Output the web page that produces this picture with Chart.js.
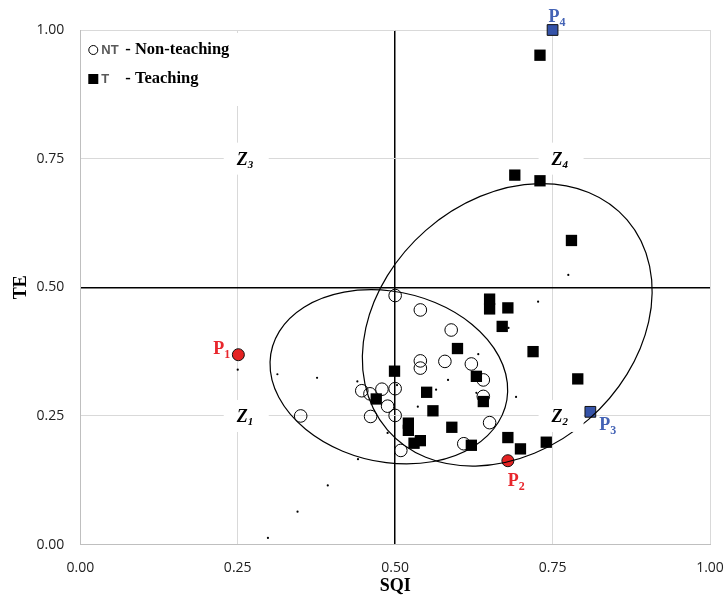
<!DOCTYPE html>
<html lang="en">
<head>
  <meta charset="UTF-8">
  <title>TE vs SQI</title>
  <style>
    *{
      margin: 0;
      padding: 0;
    }
    body{
      background: #fff;
    }
    .chartBox{
      width: 726px;
      height: 596px;
    }
  </style>
</head>
<body>
  <div class="chartBox">
    <canvas id="myChart"></canvas>
  </div>
  <script src="https://cdn.jsdelivr.net/npm/chart.js"></script>
  <script>
    // non-teaching (open circles)
    const ntX = [0.350, 0.447, 0.460, 0.461, 0.479, 0.488, 0.500, 0.500, 0.500, 0.509,
                 0.540, 0.540, 0.540, 0.579, 0.589, 0.621, 0.640, 0.640, 0.650, 0.609];
    const ntY = [0.250, 0.299, 0.293, 0.249, 0.302, 0.269, 0.484, 0.303, 0.251, 0.183,
                 0.456, 0.357, 0.343, 0.356, 0.417, 0.351, 0.320, 0.288, 0.237, 0.196];

    // teaching (black squares)
    const tX = [0.730, 0.690, 0.730, 0.780, 0.650, 0.650, 0.679, 0.670, 0.599, 0.719,
                0.629, 0.640, 0.790, 0.590, 0.679, 0.699, 0.740, 0.621, 0.499, 0.470,
                0.550, 0.560, 0.521, 0.521, 0.530, 0.540];
    const tY = [0.951, 0.718, 0.707, 0.591, 0.477, 0.458, 0.460, 0.424, 0.381, 0.375,
                0.327, 0.278, 0.322, 0.228, 0.208, 0.186, 0.199, 0.193, 0.337, 0.283,
                0.296, 0.260, 0.236, 0.222, 0.197, 0.202];

    // small dots (ellipse axes)
    const dotX = [0.250, 0.313, 0.376, 0.440, 0.503, 0.565, 0.629, 0.692, 0.755,
                  0.298, 0.345, 0.393, 0.441, 0.488, 0.536, 0.584, 0.632, 0.680, 0.727, 0.775];
    const dotY = [0.340, 0.331, 0.324, 0.317, 0.310, 0.301, 0.295, 0.287, 0.279,
                  0.013, 0.064, 0.115, 0.166, 0.217, 0.268, 0.320, 0.370, 0.421, 0.472, 0.524];

    // marked points P1..P4
    const pNames = ['1', '2', '3', '4'];
    const pX = [0.251, 0.679, 0.810, 0.750];
    const pY = [0.369, 0.163, 0.258, 1.000];

    // zones Z1..Z4
    const zNames = ['1', '2', '3', '4'];
    const zX = [0.25, 0.75, 0.25, 0.75];
    const zY = [0.25, 0.25, 0.75, 0.75];

    // confidence ellipses (data units, angle in degrees)
    const ellCx = [0.490, 0.678];
    const ellCy = [0.326, 0.427];
    const ellRx = [0.195, 0.288];
    const ellRy = [0.162, 0.213];
    const ellAngle = [-26.9, 63.3];

    const tickValues = [0, 0.25, 0.5, 0.75, 1];

    const toPts = (xs, ys) => xs.map((v, i) => ({x: v, y: ys[i]}));

    const RED = '#e8262c';
    const BLUE = '#4463b5';
    const SERIF = '"Liberation Serif", "Times New Roman", serif';

    // label offsets for P points (pixels)
    const pOffset = [[-25, -1], [0, 25], [9, 18], [-4, -8]];

    const overlay = {
      id: 'overlay',
      afterDatasetsDraw(chart) {
        const {ctx, scales: {x, y}} = chart;
        const sx = x.getPixelForValue(1) - x.getPixelForValue(0);
        const sy = y.getPixelForValue(0) - y.getPixelForValue(1);

        // ellipses
        ctx.save();
        for (let i = 0; i < ellCx.length; i++) {
          ctx.save();
          ctx.translate(x.getPixelForValue(ellCx[i]), y.getPixelForValue(ellCy[i]));
          ctx.scale(sx, -sy);
          ctx.rotate(ellAngle[i] * Math.PI / 180);
          ctx.beginPath();
          ctx.ellipse(0, 0, ellRx[i], ellRy[i], 0, 0, 2 * Math.PI);
          ctx.restore();
          ctx.lineWidth = 1.2;
          ctx.strokeStyle = '#000';
          ctx.stroke();
        }

        // zone labels
        for (let i = 0; i < zNames.length; i++) {
          const px = x.getPixelForValue(zX[i]);
          const py = y.getPixelForValue(zY[i]);
          ctx.fillStyle = '#fff';
          ctx.fillRect(px - 14, py - 16, 45, 32);
          ctx.fillStyle = '#000';
          ctx.textAlign = 'left';
          ctx.textBaseline = 'alphabetic';
          ctx.font = 'italic bold 18px ' + SERIF;
          ctx.fillText('Z', px - 1, py + 6);
          const w = ctx.measureText('Z').width;
          ctx.font = 'italic bold 11px ' + SERIF;
          ctx.fillText(zNames[i], px - 1 + w, py + 9);
        }

        // P labels
        for (let i = 0; i < pNames.length; i++) {
          const px = x.getPixelForValue(pX[i]) + pOffset[i][0];
          const py = y.getPixelForValue(pY[i]) + pOffset[i][1];
          ctx.fillStyle = i < 2 ? RED : BLUE;
          ctx.textAlign = 'left';
          ctx.font = 'bold 18px ' + SERIF;
          ctx.fillText('P', px, py);
          const w = ctx.measureText('P').width;
          ctx.font = 'bold 12px ' + SERIF;
          ctx.fillText(pNames[i], px + w, py + 4);
        }

        // legend box
        const lx = chart.chartArea.left;
        const ly = chart.chartArea.top;
        ctx.fillStyle = '#fff';
        ctx.fillRect(lx + 4, ly + 3, 166, 73);
        ctx.strokeStyle = '#000';
        ctx.lineWidth = 1;
        ctx.beginPath();
        ctx.arc(lx + 13, ly + 20, 4.5, 0, 2 * Math.PI);
        ctx.stroke();
        ctx.fillStyle = '#000';
        ctx.fillRect(lx + 8, ly + 44, 10, 10);
        ctx.font = 'bold 13px "Liberation Sans", Arial, sans-serif';
        ctx.fillStyle = '#595959';
        ctx.fillText('NT', lx + 21, ly + 24);
        ctx.fillText('T', lx + 21, ly + 53);
        ctx.font = 'bold 16.5px ' + SERIF;
        ctx.fillStyle = '#000';
        ctx.fillText('- Non-teaching', lx + 45, ly + 24);
        ctx.fillText('- Teaching', lx + 45, ly + 53);
        ctx.restore();
      }
    };

    const data = {
      datasets: [
        {
          label: 'P',
          data: toPts(pX, pY),
          pointStyle: ['circle', 'circle', 'rect', 'rect'],
          pointRadius: [6, 6, 7.6, 7.6],
          backgroundColor: ['#e52222', '#e52222', '#3553a8', '#3553a8'],
          borderColor: '#111',
          borderWidth: 1,
          clip: false
        },
        {
          label: 'T',
          data: toPts(tX, tY),
          pointStyle: 'rect',
          pointRadius: 8,
          backgroundColor: '#000',
          borderColor: '#000',
          borderWidth: 0,
          clip: false
        },
        {
          label: 'NT',
          data: toPts(ntX, ntY),
          pointStyle: 'circle',
          pointRadius: 6.3,
          backgroundColor: 'rgba(0,0,0,0)',
          borderColor: '#000',
          borderWidth: 1,
          clip: false
        },
        {
          label: 'dots',
          data: toPts(dotX, dotY),
          pointStyle: 'circle',
          pointRadius: 1.1,
          backgroundColor: '#000',
          borderWidth: 0,
          clip: false
        }
      ]
    };

    const gridColor = ctx => ctx.tick && ctx.tick.value === 0.5 ? '#000' : '#d9d9d9';
    const gridWidth = ctx => ctx.tick && ctx.tick.value === 0.5 ? 1.5 : 1;

    const config = {
      type: 'scatter',
      data,
      options: {
        responsive: true,
        maintainAspectRatio: false,
        animation: false,
        layout: {
          autoPadding: false,
          padding: {left: 11, right: 16, top: 30, bottom: 0}
        },
        plugins: {
          legend: {display: false},
          tooltip: {enabled: false}
        },
        scales: {
          x: {
            min: 0,
            max: 1,
            afterBuildTicks: axis => { axis.ticks = tickValues.map(v => ({value: v})); },
            afterFit: axis => { axis.paddingRight = 0; },
            ticks: {
              callback: v => v.toFixed(2),
              color: '#222',
              font: {family: '"Open Sans"', size: 14},
              padding: 15
            },
            grid: {color: gridColor, lineWidth: gridWidth, drawTicks: false},
            border: {color: '#bfbfbf', width: 1},
            title: {
              display: true,
              text: 'SQI',
              color: '#000',
              font: {family: SERIF, size: 18, weight: 'bold'},
              padding: {top: -16, bottom: -1}
            }
          },
          y: {
            min: 0,
            max: 1,
            afterBuildTicks: axis => { axis.ticks = tickValues.map(v => ({value: v})); },
            ticks: {
              callback: v => v.toFixed(2),
              color: '#222',
              font: {family: '"Open Sans"', size: 14},
              padding: 16
            },
            grid: {color: gridColor, lineWidth: gridWidth, drawTicks: false},
            border: {color: '#bfbfbf', width: 1},
            title: {
              display: true,
              text: 'TE',
              color: '#000',
              font: {family: SERIF, size: 18, weight: 'bold'},
              padding: {top: 0, bottom: -12}
            }
          }
        }
      },
      plugins: [overlay]
    };

    const myChart = new Chart(document.getElementById('myChart'), config);
  </script>
</body>
</html>
